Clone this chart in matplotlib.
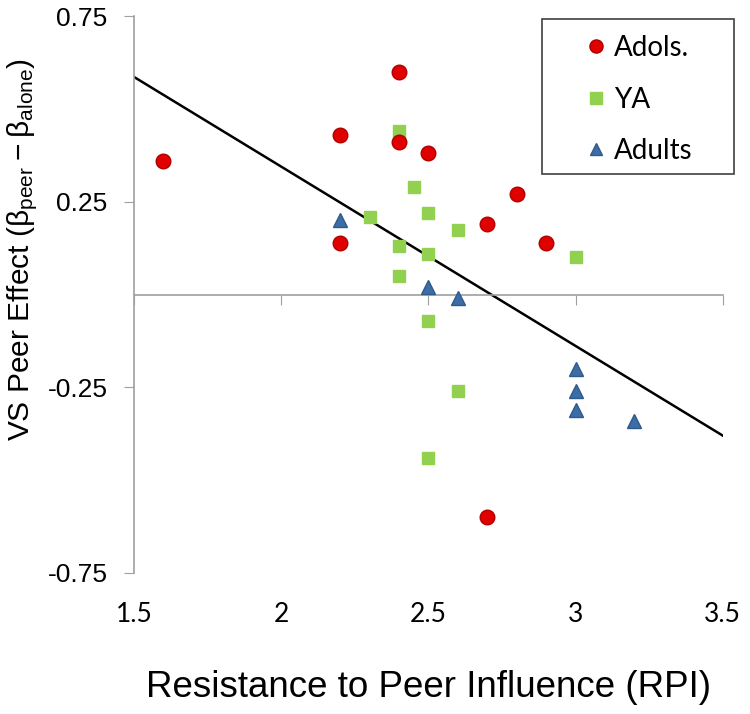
import matplotlib.pyplot as plt
from matplotlib.patches import Rectangle

# data
adols_x = [1.6, 2.2, 2.2, 2.4, 2.4, 2.5, 2.7, 2.8, 2.9, 2.7]
adols_y = [0.36, 0.43, 0.14, 0.60, 0.41, 0.38, 0.19, 0.27, 0.14, -0.60]

ya_x = [2.3, 2.4, 2.45, 2.5, 2.6, 2.4, 2.5, 3.0, 2.4, 2.5, 2.6, 2.5]
ya_y = [0.21, 0.44, 0.29, 0.22, 0.175, 0.13, 0.11, 0.10, 0.05, -0.07, -0.26, -0.44]

adults_x = [2.2, 2.5, 2.6, 3.0, 3.0, 3.0, 3.2]
adults_y = [0.20, 0.02, -0.01, -0.20, -0.26, -0.31, -0.34]

trend_x = [1.5, 3.5]
trend_y = [0.586, -0.38]

x_ticks = [1.5, 2, 2.5, 3, 3.5]
x_tick_labels = ["1.5", "2", "2.5", "3", "3.5"]
y_ticks = [0.75, 0.25, -0.25, -0.75]
y_tick_labels = ["0.75", "0.25", "-0.25", "-0.75"]

fig = plt.figure(figsize=(7.5, 7.14), dpi=100)
ax = fig.add_axes([0.1787, 0.1975, 0.785, 0.780])

ax.plot(trend_x, trend_y, color="black", linewidth=1.8, zorder=2)
ax.plot(ya_x, ya_y, linestyle="none", marker="s", markersize=9,
        color="#92D050", markeredgecolor="#92D050", label="YA", zorder=3)
ax.plot(adols_x, adols_y, linestyle="none", marker="o", markersize=10.5,
        color="#E00000", markeredgecolor="#B00000", label="Adols.", zorder=4)
ax.plot(adults_x, adults_y, linestyle="none", marker="^", markersize=10,
        color="#3C6DA6", markeredgecolor="#2F5A8C", label="Adults", zorder=5)

ax.set_xlim(1.5, 3.5)
ax.set_ylim(-0.75, 0.75)

for s in ["top", "right"]:
    ax.spines[s].set_visible(False)
ax.spines["left"].set_color("#a0a0a0")
ax.spines["left"].set_linewidth(1.2)
ax.spines["bottom"].set_position(("data", 0))
ax.spines["bottom"].set_color("#a0a0a0")
ax.spines["bottom"].set_linewidth(1.2)

ax.set_yticks(y_ticks)
ax.set_yticklabels(y_tick_labels, fontsize=19, family="Liberation Sans")
ax.tick_params(axis="y", direction="out", length=7, color="#a0a0a0", pad=12)

ax.set_xticks(x_ticks)
ax.tick_params(axis="x", direction="out", length=7, color="#a0a0a0", labelbottom=False)
for xv, lab in zip(x_ticks, x_tick_labels):
    ax.text(xv, -0.075, lab, transform=ax.get_xaxis_transform(), ha="center", va="center",
            fontsize=19, family="Lato")

fig.text(0.03, 0.65, r"VS Peer Effect ($\mathregular{\beta_{peer} - \beta_{alone}}$)",
         rotation=90, ha="center", va="center", fontsize=21.5, family="Liberation Sans")
ax.text(0.5, -0.206, "Resistance to Peer Influence (RPI)", transform=ax.transAxes,
        ha="center", va="center", fontsize=26.5, family="Liberation Sans")

handles, labels = ax.get_legend_handles_labels()
order = [1, 0, 2]
leg = ax.legend([handles[i] for i in order], [labels[i] for i in order],
                loc="upper left", bbox_to_anchor=(0.771, 0.966),
                prop={"family": "Lato", "size": 20}, frameon=False,
                handlelength=0.6, handletextpad=0.33, labelspacing=0.92,
                borderpad=0, borderaxespad=0, markerscale=0.9)
ax.add_patch(Rectangle((0.693, 0.716), 0.326, 0.279, transform=ax.transAxes,
                       fill=False, edgecolor="#404040", linewidth=1.2,
                       clip_on=False, zorder=6))

fig.savefig("out.png", dpi=100)
